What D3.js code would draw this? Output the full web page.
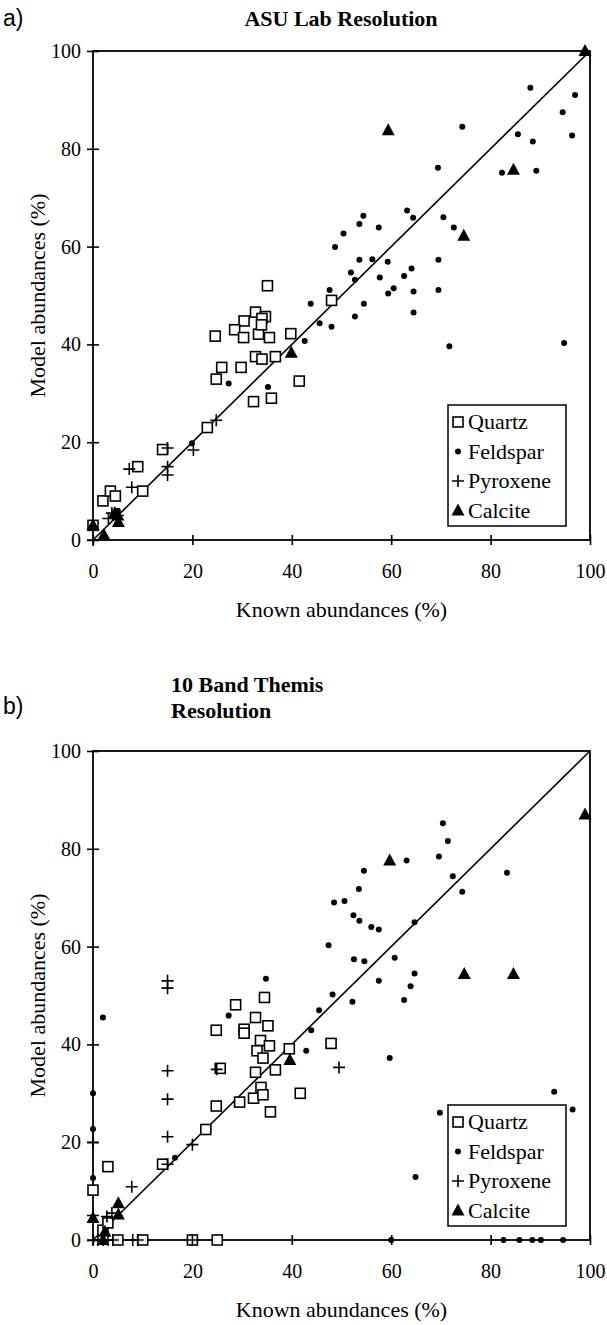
<!DOCTYPE html>
<html lang="en">
<head>
<meta charset="utf-8">
<script src="https://d3js.org/d3.v7.min.js"></script>
<style>
    body { margin: 0; background: #fff; }
    svg { display: block; }
    text { font-family: "Liberation Serif", "Times New Roman", serif; fill: #000; }
</style>
</head>
<body>
<script>

    // ---- data (known %, model %) ----
    const ticks = [0, 20, 40, 60, 80, 100];
    const series = ["Quartz", "Feldspar", "Pyroxene", "Calcite"];

    // a) ASU lab resolution
    const quartzA = [[0,3],[2,8],[3.5,10],[4.5,9],[9,15],[10,10],[14,18.5],[23,23],
        [32.3,28.3],[35.9,29],[35.1,52],[32.7,46.6],[34.7,45.7],[34,45.3],[30.4,44.8],[28.5,43],
        [24.6,41.7],[30.3,41.4],[33.3,42.1],[35.5,41.4],[39.8,42.2],[33.9,44],[32.7,37.5],[34,37],
        [36.7,37.5],[25.9,35.3],[29.8,35.3],[24.8,32.9],[41.5,32.5],[48,49]];
    const feldsparA = [[88,92.5],[97,91],[94.5,87.5],[74.3,84.5],[85.5,83],[88.5,81.5],
        [96.4,82.7],[69.4,76.1],[82.3,75.1],[89.2,75.5],[63.2,67.4],[64.4,65.9],[54.4,66.3],
        [53.6,64.6],[57.5,63.9],[70.5,66],[72.6,63.9],[50.4,62.7],[48.7,59.9],[53.6,57.3],
        [56.2,57.4],[59.3,56.9],[69.5,57.3],[51.9,54.7],[52.7,53.2],[57.7,53.7],[62.6,54],
        [64.1,55.5],[47.6,51.1],[59.4,50.4],[60.5,51.5],[64.5,50.8],[69.5,51.1],[43.8,48.3],
        [54.5,48.3],[52.7,45.7],[64.5,46.5],[45.6,44.3],[48,43.6],[42.6,40.7],[71.7,39.6],
        [94.8,40.3],[27.3,32],[35.2,31.3],[19.9,19.8],[5,6],[4,5]];
    const pyroxeneA = [[24.8,24.5],[20.2,18.4],[15,18.8],[15,15],[15,13.3],[7.3,14.5],[7.8,10.8],
        [3.1,4.4],[3.8,5.5],[5,5],[0,0]];
    const calciteA = [[0,3],[2.2,1],[4.4,5.5],[5.1,3.7],[5,5],[39.9,38.3],[59.4,83.8],
        [84.6,75.7],[74.6,62.2],[99,100]];

    // b) 10 band THEMIS resolution
    const quartzB = [[0,10.2],[2,2],[3,3.5],[3,15],[14,15.5],[22.7,22.6],[34.5,49.6],[28.7,48.1],
        [32.7,45.5],[35.2,43.8],[24.8,42.9],[30.4,43.1],[30.4,42.3],[33.7,40.8],[35.5,39.7],
        [33,38.7],[34.2,37.2],[39.5,39.1],[47.9,40.2],[25.6,35.1],[32.7,34.3],[36.7,34.8],
        [24.8,27.4],[29.5,28.2],[32.3,29],[33.8,31.2],[34.2,29.7],[41.7,30],[35.7,26.2],
        [5,0],[10,0],[20,0],[25,0]];
    const feldsparB = [[70.4,85.2],[71.4,81.6],[63.1,77.6],[69.6,78.4],[83.3,75.1],[54.5,75.5],
        [72.4,74.4],[53.5,71.8],[74.3,71.2],[48.5,69],[50.6,69.3],[52.4,66.4],[53.6,65.3],
        [56,64],[57.5,63.5],[64.7,65],[47.4,60.3],[52.5,57.4],[54.6,57],[60.7,57.7],[64.7,54.5],
        [57.5,53],[63.9,51.9],[48.2,50.2],[52.2,48.7],[62.6,49.1],[45.5,47],[34.8,53.4],
        [2,45.5],[27.3,45.9],[43.9,42.9],[42.9,38.7],[59.7,37.2],[92.8,30.3],[96.5,26.7],
        [69.8,26],[64.9,12.9],[0,30],[0,22.7],[0,12.7],[16.5,16.8],
        [60,0],[82.6,0],[85.8,0],[88.4,0],[90.1,0],[94.6,0]];
    const pyroxeneB = [[15,53],[15,51.5],[15,34.6],[24.9,34.9],[49.5,35.3],[15,28.8],[15,21.1],
        [15,15.5],[20,19.5],[7.8,10.9],[2.8,4.8],[3.8,5.5],[0,20],[0,5],[1,0],[2,0],[3,0],
        [4,0],[8,0],[9,0],[20,0],[0,0]];
    const calciteB = [[0,4.5],[2.4,1.7],[5.1,7.5],[5.1,5.2],[2,0],[39.6,36.8],[59.7,77.6],
        [74.7,54.4],[84.6,54.4],[99,87]];

    // ---- layout ----
    const W = 607, H = 1325;
    const left = 93, right = 590, plotH = 489;

    const svg = d3.select("body").append("svg")
        .attr("width", W).attr("height", H);

    const x = d3.scaleLinear().domain([0, 100]).range([left, right]);

    function marker(g, type, cx, cy) {
        if (type === "Quartz") {
            g.append("rect").attr("x", cx - 5).attr("y", cy - 5).attr("width", 10).attr("height", 10)
                .attr("fill", "#fff").attr("stroke", "#000").attr("stroke-width", 1.6);
        } else if (type === "Feldspar") {
            g.append("circle").attr("cx", cx).attr("cy", cy).attr("r", 3).attr("fill", "#000");
        } else if (type === "Pyroxene") {
            g.append("path").attr("d", `M${cx - 6},${cy}H${cx + 6}M${cx},${cy - 6}V${cy + 6}`)
                .attr("stroke", "#000").attr("stroke-width", 1.6);
        } else {
            g.append("path").attr("d", `M${cx},${cy - 7}L${cx + 6.5},${cy + 5}L${cx - 6.5},${cy + 5}Z`)
                .attr("fill", "#000");
        }
    }

    function panel(top, sets, legendTop) {
        const y = d3.scaleLinear().domain([0, 100]).range([top + plotH, top]);
        const g = svg.append("g");

        // frame
        g.append("rect").attr("x", x(0)).attr("y", y(100))
            .attr("width", x(100) - x(0)).attr("height", y(0) - y(100))
            .attr("fill", "none").attr("stroke", "#000").attr("stroke-width", 1.8);

        // x axis, ticks cross the line
        const xa = g.append("g").attr("transform", `translate(0,${y(0)})`)
            .call(d3.axisBottom(x).tickValues(ticks).tickFormat(d3.format("d")).tickSize(0));
        xa.select(".domain").remove();
        xa.selectAll(".tick line").attr("y1", -5).attr("y2", 5).attr("stroke", "#000").attr("stroke-width", 1.6);
        xa.selectAll(".tick text").attr("y", 24).attr("dy", "0.71em")
            .style("font-family", "Liberation Serif").style("font-size", "20px");

        // y axis
        const ya = g.append("g").attr("transform", `translate(${x(0)},0)`)
            .call(d3.axisLeft(y).tickValues(ticks).tickFormat(d3.format("d")).tickSize(0));
        ya.select(".domain").remove();
        ya.selectAll(".tick line").attr("x1", -6).attr("x2", 6).attr("stroke", "#000").attr("stroke-width", 1.6);
        ya.selectAll(".tick text").attr("x", -12)
            .style("font-family", "Liberation Serif").style("font-size", "20px");

        // 1:1 line
        g.append("path").datum([0, 100])
            .attr("d", d3.line().x(d => x(d)).y(d => y(d)))
            .attr("stroke", "#000").attr("stroke-width", 1.6).attr("fill", "none");

        // points
        series.forEach((s, i) => {
            sets[i].forEach(d => marker(g, s, x(d[0]), y(d[1])));
        });

        // axis titles
        g.append("text").attr("x", (x(0) + x(100)) / 2).attr("y", y(0) + 77)
            .attr("text-anchor", "middle").style("font-size", "22px").text("Known abundances (%)");
        g.append("text")
            .attr("transform", `translate(45,${(y(0) + y(100)) / 2}) rotate(-90)`)
            .attr("text-anchor", "middle").style("font-size", "22px").text("Model abundances (%)");

        // legend
        const lg = g.append("g");
        lg.append("rect").attr("x", 448).attr("y", legendTop).attr("width", 118).attr("height", 121)
            .attr("fill", "#fff").attr("stroke", "#000").attr("stroke-width", 1.5);
        series.forEach((s, i) => {
            const cy = legendTop + 17 + i * 29.5;
            marker(lg, s, 458, cy);
            lg.append("text").attr("x", 468).attr("y", cy + 7).style("font-size", "22px").text(s);
        });
        return y;
    }

    panel(51, [quartzA, feldsparA, pyroxeneA, calciteA], 405);
    panel(751, [quartzB, feldsparB, pyroxeneB, calciteB], 1105);

    // titles and panel letters
    svg.append("text").attr("x", 341).attr("y", 26).attr("text-anchor", "middle")
        .style("font-size", "22px").style("font-weight", "bold").text("ASU Lab Resolution");
    svg.append("text").attr("x", 171).attr("y", 692)
        .style("font-size", "22px").style("font-weight", "bold").text("10 Band Themis");
    svg.append("text").attr("x", 171).attr("y", 718)
        .style("font-size", "22px").style("font-weight", "bold").text("Resolution");
    svg.append("text").attr("x", 3).attr("y", 26)
        .style("font-family", "Liberation Sans").style("font-size", "23px").text("a)");
    svg.append("text").attr("x", 3).attr("y", 714)
        .style("font-family", "Liberation Sans").style("font-size", "23px").text("b)");

</script>
</body>
</html>
